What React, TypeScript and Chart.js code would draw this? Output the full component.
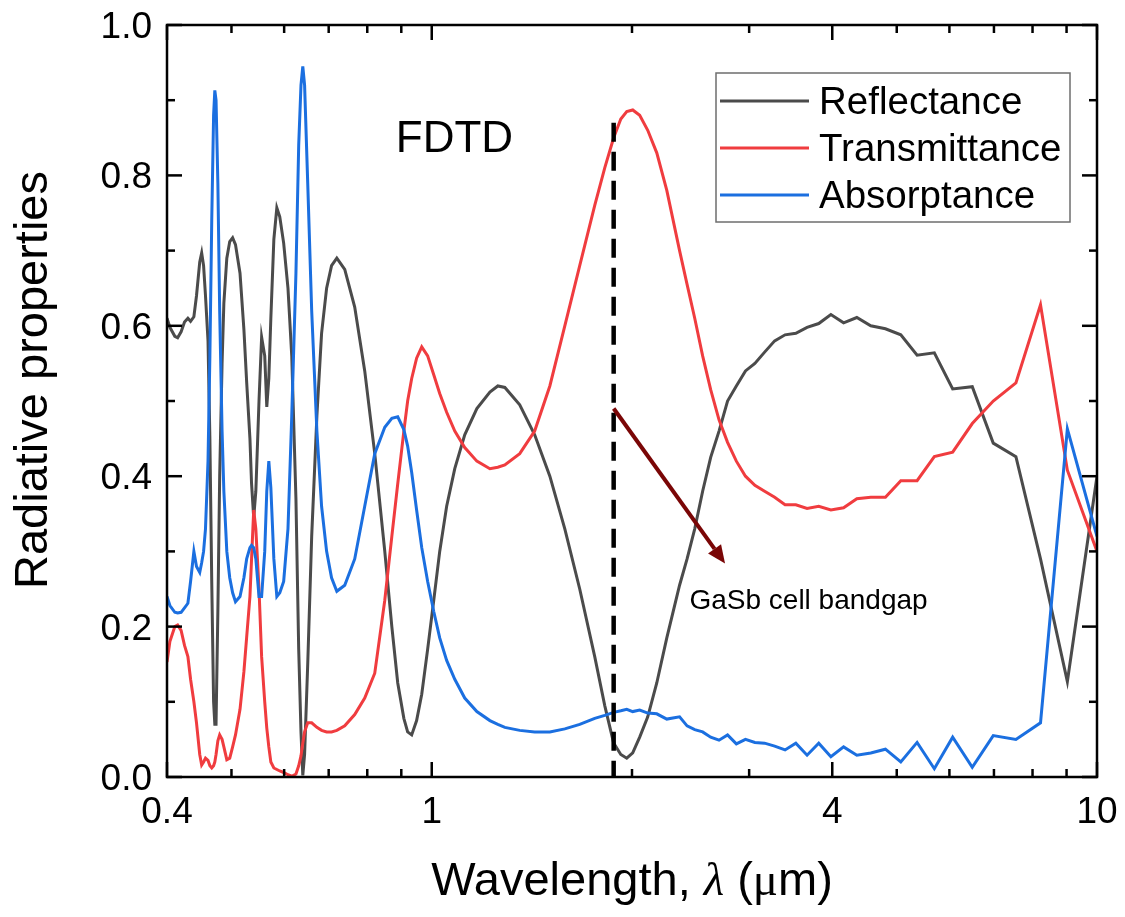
import React, { useEffect, useRef } from "react";
import { Chart, registerables } from "chart.js";

Chart.register(...registerables);

// Wavelength (µm)
const wavelength = [
  0.400, 0.404, 0.411, 0.415, 0.420, 0.425, 0.430, 0.434, 0.439, 0.443,
  0.448, 0.451, 0.454, 0.457, 0.461, 0.464, 0.467, 0.470, 0.472, 0.474,
  0.477, 0.480, 0.484, 0.487, 0.492, 0.497, 0.502, 0.507, 0.515, 0.522,
  0.527, 0.533, 0.536, 0.540, 0.544, 0.550, 0.555, 0.561, 0.565, 0.569,
  0.573, 0.579, 0.585, 0.591, 0.599, 0.608, 0.616, 0.625, 0.631, 0.636,
  0.640, 0.644, 0.651, 0.660, 0.672, 0.683, 0.695, 0.707, 0.720, 0.740,
  0.766, 0.793, 0.821, 0.850, 0.871, 0.889, 0.908, 0.920, 0.933, 0.949,
  0.966, 0.986, 1.007, 1.028, 1.053, 1.083, 1.121, 1.169, 1.223, 1.257,
  1.288, 1.356, 1.428, 1.505, 1.585, 1.669, 1.758, 1.820, 1.877, 1.924,
  1.964, 2.005, 2.054, 2.112, 2.179, 2.256, 2.358, 2.420, 2.485, 2.554,
  2.626, 2.703, 2.784, 2.870, 2.962, 3.060, 3.165, 3.277, 3.397, 3.526,
  3.666, 3.817, 3.981, 4.160, 4.355, 4.570, 4.808, 5.071, 5.365, 5.695,
  6.068, 6.494, 6.983, 7.553, 8.224, 9.025, 10.0,
];

const reflectance = [
  0.610, 0.598, 0.586, 0.584, 0.592, 0.605, 0.610, 0.606, 0.612, 0.640,
  0.685, 0.697, 0.680, 0.640, 0.580, 0.450, 0.260, 0.100, 0.070, 0.070,
  0.220, 0.400, 0.550, 0.630, 0.690, 0.712, 0.717, 0.708, 0.670, 0.595,
  0.525, 0.450, 0.390, 0.345, 0.380, 0.500, 0.585, 0.560, 0.492, 0.530,
  0.610, 0.715, 0.757, 0.745, 0.710, 0.650, 0.560, 0.370, 0.170, 0.060,
  0.002, 0.030, 0.150, 0.320, 0.480, 0.590, 0.650, 0.680, 0.690, 0.675,
  0.625, 0.540, 0.430, 0.300, 0.200, 0.125, 0.078, 0.060, 0.056, 0.075,
  0.110, 0.170, 0.235, 0.300, 0.360, 0.410, 0.455, 0.490, 0.512, 0.520,
  0.518, 0.495, 0.455, 0.400, 0.330, 0.250, 0.160, 0.095, 0.045, 0.030,
  0.025, 0.032, 0.053, 0.080, 0.125, 0.185, 0.255, 0.290, 0.330, 0.380,
  0.425, 0.460, 0.500, 0.520, 0.540, 0.550, 0.565, 0.580, 0.588, 0.590,
  0.598, 0.603, 0.615, 0.604, 0.611, 0.600, 0.596, 0.588, 0.561, 0.564,
  0.516, 0.519, 0.444, 0.426, 0.290, 0.127, 0.400,
];

const transmittance = [
  0.153, 0.180, 0.200, 0.202, 0.195, 0.175, 0.160, 0.130, 0.100, 0.072,
  0.030, 0.016, 0.020, 0.025, 0.022, 0.015, 0.012, 0.015, 0.020, 0.030,
  0.048, 0.056, 0.050, 0.040, 0.023, 0.025, 0.040, 0.056, 0.090, 0.140,
  0.186, 0.240, 0.290, 0.355, 0.330, 0.250, 0.160, 0.100, 0.065, 0.040,
  0.020, 0.012, 0.010, 0.008, 0.006, 0.003, 0.001, 0.004, 0.015, 0.028,
  0.045, 0.060, 0.072, 0.072, 0.066, 0.062, 0.060, 0.060, 0.062, 0.068,
  0.083, 0.105, 0.138, 0.235, 0.320, 0.390, 0.460, 0.500, 0.530, 0.557,
  0.572, 0.560, 0.535, 0.510, 0.485, 0.460, 0.438, 0.420, 0.410, 0.412,
  0.415, 0.430, 0.460, 0.520, 0.600, 0.680, 0.760, 0.810, 0.850, 0.875,
  0.885, 0.887, 0.880, 0.860, 0.830, 0.780, 0.700, 0.655, 0.610, 0.560,
  0.515, 0.475, 0.445, 0.420, 0.400, 0.388, 0.380, 0.372, 0.362, 0.362,
  0.357, 0.360, 0.355, 0.358, 0.370, 0.372, 0.372, 0.394, 0.394, 0.426,
  0.432, 0.470, 0.500, 0.524, 0.628, 0.408, 0.300,
];

const absorptance = [
  0.240, 0.228, 0.219, 0.218, 0.219, 0.225, 0.231, 0.260, 0.300, 0.280,
  0.272, 0.285, 0.300, 0.330, 0.420, 0.560, 0.740, 0.880, 0.913, 0.900,
  0.790, 0.620, 0.460, 0.380, 0.300, 0.265, 0.245, 0.233, 0.240, 0.265,
  0.290, 0.305, 0.308, 0.305, 0.290, 0.240, 0.240, 0.300, 0.380, 0.420,
  0.385, 0.290, 0.240, 0.245, 0.260, 0.330, 0.480, 0.670, 0.840, 0.920,
  0.945, 0.920, 0.790, 0.620, 0.460, 0.360, 0.300, 0.265, 0.247, 0.255,
  0.290, 0.360, 0.430, 0.465, 0.477, 0.479, 0.462, 0.440, 0.405, 0.355,
  0.305, 0.260, 0.220, 0.185, 0.155, 0.130, 0.105, 0.087, 0.075, 0.070,
  0.066, 0.062, 0.060, 0.060, 0.064, 0.070, 0.078, 0.082, 0.086, 0.088,
  0.090, 0.087, 0.089, 0.085, 0.084, 0.077, 0.080, 0.068, 0.063, 0.060,
  0.053, 0.049, 0.056, 0.044, 0.050, 0.046, 0.045, 0.041, 0.036, 0.045,
  0.029, 0.045, 0.027, 0.040, 0.029, 0.032, 0.037, 0.020, 0.046, 0.011,
  0.053, 0.013, 0.055, 0.050, 0.072, 0.463, 0.320,
];

const seriesNames = ["Reflectance", "Transmittance", "Absorptance"];
const seriesColors = ["#4b4b4b", "#f03c3f", "#1b6fe0"];

const xTickValues = [0.4, 1, 4, 10];
const xTickLabels = ["0.4", "1", "4", "10"];
const xMinorTicks = [0.5, 0.6, 0.7, 0.8, 0.9, 2, 3, 5, 6, 7, 8, 9];
const yTickValues = [0, 0.2, 0.4, 0.6, 0.8, 1.0];
const yTickLabels = ["0.0", "0.2", "0.4", "0.6", "0.8", "1.0"];
const yMinorTicks = [0.1, 0.3, 0.5, 0.7, 0.9];

// annotations (data coordinates)
const bandgapWavelength = 1.877;
const bandgapTop = 0.87;
const arrowFrom = { x: 1.877, y: 0.49 };
const arrowTo = { x: 2.76, y: 0.284 };
const bandgapLabel = { x: 2.44, y: 0.224, text: "GaSb cell bandgap" };
const methodLabel = { x: 0.883, y: 0.831, text: "FDTD" };

const SANS = '"Liberation Sans", Arial, Helvetica, sans-serif';
const SERIF = '"Liberation Serif", "Times New Roman", serif';

const overlayPlugin = {
  id: "overlay",
  beforeDraw(chart: any) {
    const ctx = chart.ctx;
    ctx.save();
    ctx.fillStyle = "#ffffff";
    ctx.fillRect(0, 0, chart.width, chart.height);
    ctx.restore();
  },
  afterDatasetsDraw(chart: any) {
    const { ctx, scales } = chart;
    const x = scales.x;
    const y = scales.y;
    ctx.save();
    // dashed bandgap line
    const bx = x.getPixelForValue(bandgapWavelength);
    ctx.strokeStyle = "#000000";
    ctx.lineWidth = 4.5;
    ctx.setLineDash([19, 10]);
    ctx.beginPath();
    ctx.moveTo(bx, y.getPixelForValue(bandgapTop));
    ctx.lineTo(bx, y.getPixelForValue(0));
    ctx.stroke();
    ctx.setLineDash([]);

    // arrow
    const ax0 = x.getPixelForValue(arrowFrom.x);
    const ay0 = y.getPixelForValue(arrowFrom.y);
    const ax1 = x.getPixelForValue(arrowTo.x);
    const ay1 = y.getPixelForValue(arrowTo.y);
    const ang = Math.atan2(ay1 - ay0, ax1 - ax0);
    const headLen = 18;
    const headW = 8;
    const hx = ax1 - headLen * Math.cos(ang);
    const hy = ay1 - headLen * Math.sin(ang);
    ctx.strokeStyle = "#7a0606";
    ctx.fillStyle = "#7a0606";
    ctx.lineWidth = 4;
    ctx.beginPath();
    ctx.moveTo(ax0, ay0);
    ctx.lineTo(hx, hy);
    ctx.stroke();
    ctx.beginPath();
    ctx.moveTo(ax1, ay1);
    ctx.lineTo(hx + headW * Math.sin(ang), hy - headW * Math.cos(ang));
    ctx.lineTo(hx - headW * Math.sin(ang), hy + headW * Math.cos(ang));
    ctx.closePath();
    ctx.fill();

    // texts
    ctx.fillStyle = "#000000";
    ctx.textBaseline = "alphabetic";
    ctx.textAlign = "left";
    ctx.font = `28px ${SANS}`;
    ctx.fillText(bandgapLabel.text, x.getPixelForValue(bandgapLabel.x), y.getPixelForValue(bandgapLabel.y));
    ctx.font = `44px ${SANS}`;
    ctx.fillText(methodLabel.text, x.getPixelForValue(methodLabel.x), y.getPixelForValue(methodLabel.y));
    ctx.restore();
  },
  afterDraw(chart: any) {
    const { ctx, chartArea, scales } = chart;
    const { left, right, top, bottom } = chartArea;
    const x = scales.x;
    const y = scales.y;
    ctx.save();
    ctx.strokeStyle = "#000000";
    ctx.lineWidth = 2.5;
    ctx.strokeRect(left, top, right - left, bottom - top);

    const major = 15;
    const minor = 8;
    const seg = (x0: number, y0: number, x1: number, y1: number) => {
      ctx.beginPath();
      ctx.moveTo(x0, y0);
      ctx.lineTo(x1, y1);
      ctx.stroke();
    };
    for (const v of xTickValues) {
      const p = x.getPixelForValue(v);
      seg(p, bottom, p, bottom - major);
      seg(p, top, p, top + major);
    }
    for (const v of xMinorTicks) {
      const p = x.getPixelForValue(v);
      seg(p, bottom, p, bottom - minor);
      seg(p, top, p, top + minor);
    }
    for (const v of yTickValues) {
      const p = y.getPixelForValue(v);
      seg(left, p, left + major, p);
      seg(right, p, right - major, p);
    }
    for (const v of yMinorTicks) {
      const p = y.getPixelForValue(v);
      seg(left, p, left + minor, p);
      seg(right, p, right - minor, p);
    }

    // tick labels
    ctx.fillStyle = "#000000";
    ctx.font = `37px ${SANS}`;
    ctx.textBaseline = "alphabetic";
    ctx.textAlign = "center";
    xTickValues.forEach((v, i) => {
      ctx.fillText(xTickLabels[i], x.getPixelForValue(v), bottom + 46);
    });
    ctx.textAlign = "right";
    yTickValues.forEach((v, i) => {
      ctx.fillText(yTickLabels[i], left - 15, y.getPixelForValue(v) + 13);
    });

    // legend
    const lx0 = 716, ly0 = 73, lx1 = 1070, ly1 = 222;
    ctx.strokeStyle = "#6e6e6e";
    ctx.lineWidth = 1.5;
    ctx.strokeRect(lx0, ly0, lx1 - lx0, ly1 - ly0);
    const rows = [101, 148, 195];
    ctx.font = `38.5px ${SANS}`;
    ctx.textAlign = "left";
    ctx.textBaseline = "alphabetic";
    seriesNames.forEach((name, i) => {
      ctx.strokeStyle = seriesColors[i];
      ctx.lineWidth = 3;
      seg(720, rows[i], 809, rows[i]);
      ctx.fillStyle = "#000000";
      ctx.fillText(name, 819, rows[i] + 13);
    });

    // y title
    ctx.save();
    ctx.translate(47, 380);
    ctx.rotate(-Math.PI / 2);
    ctx.font = `47px ${SANS}`;
    ctx.textAlign = "center";
    ctx.fillStyle = "#000000";
    ctx.fillText("Radiative properties", 0, 0);
    ctx.restore();

    // x title with mixed fonts
    const parts: [string, string][] = [
      ["Wavelength, ", `47px ${SANS}`],
      ["\u03bb", `italic 47px ${SERIF}`],
      [" (", `47px ${SANS}`],
      ["\u03bc", `47px ${SERIF}`],
      ["m)", `47px ${SANS}`],
    ];
    let total = 0;
    const widths = parts.map(([t, f]) => {
      ctx.font = f;
      const w = ctx.measureText(t).width;
      total += w;
      return w;
    });
    let cx = (left + right) / 2 - total / 2;
    ctx.fillStyle = "#000000";
    ctx.textAlign = "left";
    parts.forEach(([t, f], i) => {
      ctx.font = f;
      ctx.fillText(t, cx, 895);
      cx += widths[i];
    });
    ctx.restore();
  },
};

export default function App() {
  const canvasRef = useRef<HTMLCanvasElement | null>(null);

  useEffect(() => {
    const canvas = canvasRef.current;
    if (!canvas) return;
    const series = [reflectance, transmittance, absorptance];
    const chart = new Chart(canvas, {
      type: "line",
      data: {
        datasets: series.map((vals, i) => ({
          label: seriesNames[i],
          data: wavelength.map((w, j) => ({ x: w, y: vals[j] })),
          borderColor: seriesColors[i],
          backgroundColor: seriesColors[i],
          borderWidth: 3,
          pointRadius: 0,
          tension: 0,
          fill: false,
          order: 3 - i,
        })),
      },
      options: {
        animation: false,
        responsive: false,
        devicePixelRatio: 1,
        events: [],
        layout: { padding: { left: 0, top: 25, right: 28, bottom: 0 } },
        plugins: {
          legend: { display: false },
          tooltip: { enabled: false },
          title: { display: false },
        },
        scales: {
          x: {
            type: "logarithmic",
            min: 0.4,
            max: 10,
            grid: { display: false, drawTicks: false, tickLength: 0 },
            border: { display: false },
            afterBuildTicks: (s: any) => {
              s.ticks = xTickValues.map((v) => ({ value: v }));
            },
            afterFit: (s: any) => {
              s.height = 140;
            },
            ticks: { display: false, padding: 0 },
          },
          y: {
            type: "linear",
            min: 0,
            max: 1,
            grid: { display: false, drawTicks: false, tickLength: 0 },
            border: { display: false },
            afterBuildTicks: (s: any) => {
              s.ticks = yTickValues.map((v) => ({ value: v }));
            },
            afterFit: (s: any) => {
              s.width = 167;
            },
            ticks: { display: false, padding: 0 },
          },
        },
      } as any,
      plugins: [overlayPlugin],
    });
    return () => chart.destroy();
  }, []);

  return (
    <div style={{ position: "fixed", left: 0, top: 0, width: 1125, height: 917, background: "#fff" }}>
      <canvas ref={canvasRef} width={1125} height={917} style={{ display: "block" }} />
    </div>
  );
}
